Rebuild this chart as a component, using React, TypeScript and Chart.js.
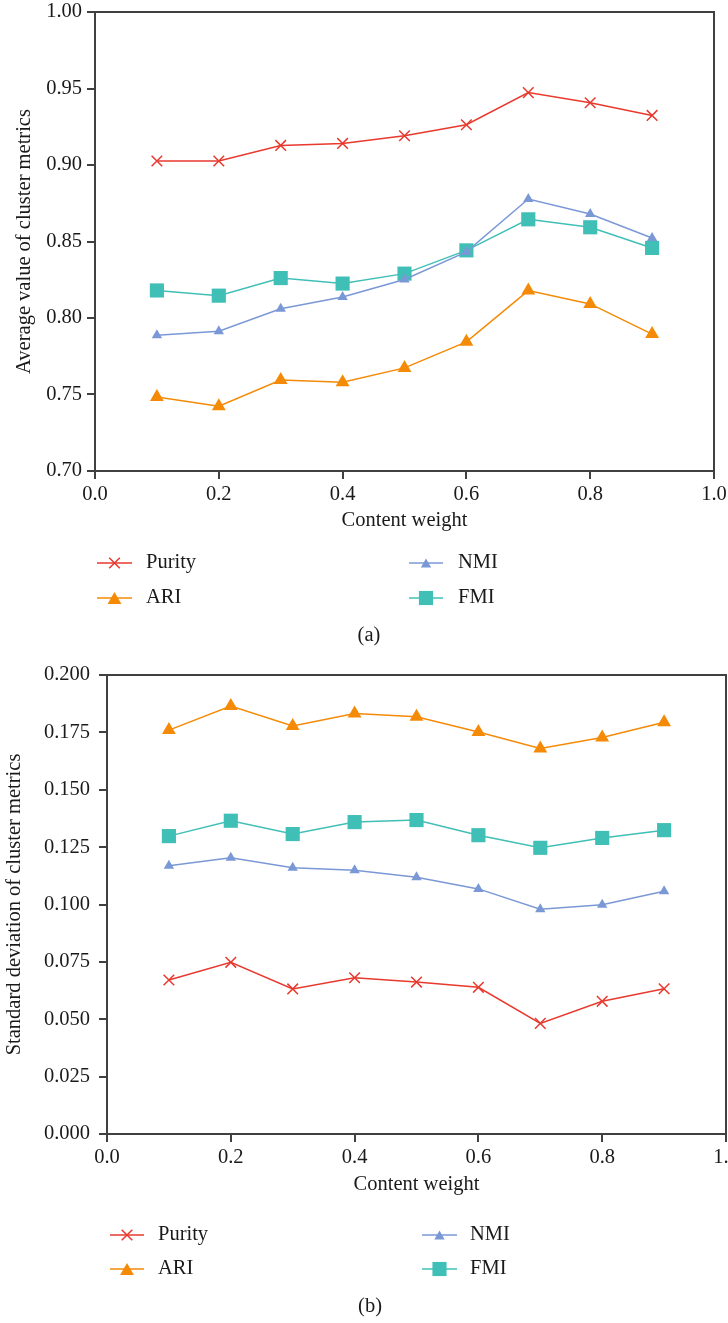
import React, { useEffect, useRef } from 'react';
import { Chart, registerables } from 'chart.js';

Chart.register(...registerables);

const contentWeights = [0.1, 0.2, 0.3, 0.4, 0.5, 0.6, 0.7, 0.8, 0.9];

const purityMean = [0.9026, 0.9026, 0.9128, 0.9141, 0.9191, 0.9263, 0.9473, 0.9407, 0.9324];
const ariMean = [0.7484, 0.7424, 0.7594, 0.758, 0.7674, 0.7844, 0.8179, 0.8092, 0.7895];
const nmiMean = [0.7887, 0.7913, 0.806, 0.8137, 0.8252, 0.8432, 0.8778, 0.868, 0.8523];
const fmiMean = [0.818, 0.8146, 0.8261, 0.8225, 0.829, 0.8442, 0.8645, 0.8593, 0.8458];

const purityStd = [0.0671, 0.0748, 0.0632, 0.0681, 0.0662, 0.0639, 0.0482, 0.0578, 0.0633];
const ariStd = [0.176, 0.1865, 0.1778, 0.1832, 0.1818, 0.1752, 0.168, 0.1728, 0.1794];
const nmiStd = [0.1169, 0.1204, 0.116, 0.1149, 0.1119, 0.1068, 0.0979, 0.0999, 0.1058];
const fmiStd = [0.1298, 0.1365, 0.1307, 0.1359, 0.1368, 0.1302, 0.1247, 0.129, 0.1324];

const seriesNames = ['Purity', 'ARI', 'NMI', 'FMI'];
const seriesColors = ['#E8392E', '#F58A07', '#7B98D6', '#40BFB6'];
const seriesStyles = ['crossRot', 'triangle', 'triangle', 'rect'];
const seriesRadius = [7.5, 8, 6, 10];

const FONT = "'Liberation Serif', 'Times New Roman', serif";
const FONT_SIZE = 20.5;
const TEXT = '#1a1a1a';
const AXIS = '#404040';

function drawMarker(ctx: CanvasRenderingContext2D, style: string, x: number, y: number, r: number, color: string) {
  ctx.save();
  ctx.fillStyle = color;
  ctx.strokeStyle = color;
  ctx.lineWidth = 1.5;
  ctx.beginPath();
  if (style === 'crossRot') {
    const o = Math.SQRT1_2 * r;
    ctx.moveTo(x - o, y - o);
    ctx.lineTo(x + o, y + o);
    ctx.moveTo(x - o, y + o);
    ctx.lineTo(x + o, y - o);
    ctx.stroke();
  } else if (style === 'triangle') {
    let a = 0;
    ctx.moveTo(x + Math.sin(a) * r, y - Math.cos(a) * r);
    a += (2 * Math.PI) / 3;
    ctx.lineTo(x + Math.sin(a) * r, y - Math.cos(a) * r);
    a += (2 * Math.PI) / 3;
    ctx.lineTo(x + Math.sin(a) * r, y - Math.cos(a) * r);
    ctx.closePath();
    ctx.fill();
  } else {
    const s = Math.SQRT1_2 * r;
    ctx.rect(x - s, y - s, 2 * s, 2 * s);
    ctx.fill();
  }
  ctx.restore();
}

type Layout = {
  height: number;
  yWidth: number;
  xHeight: number;
  padTop: number;
  padRight: number;
  yTitlePad: number;
  xTitlePad: number;
  yLabelPad: number;
  yMin: number;
  yMax: number;
  yStep: number;
  yDigits: number;
  yTitle: string;
  legendRows: number[];
  legendCols: { lineStart: number; lineEnd: number; textX: number }[];
  caption: string;
  captionX: number;
  captionY: number;
};

function buildChart(canvas: HTMLCanvasElement, series: number[][], L: Layout) {
  const datasets = series.map((vals, i) => ({
    label: seriesNames[i],
    data: contentWeights.map((x, j) => ({ x, y: vals[j] })),
    borderColor: seriesColors[i],
    backgroundColor: seriesColors[i],
    borderWidth: 1.5,
    pointStyle: seriesStyles[i] as any,
    pointRadius: seriesRadius[i],
    pointHoverRadius: seriesRadius[i],
    pointBorderWidth: i === 0 ? 1.5 : 0,
    pointBackgroundColor: seriesColors[i],
    pointBorderColor: seriesColors[i],
    tension: 0,
    fill: false,
  }));

  const framePlugin = {
    id: 'frameAndLegend',
    afterDraw(chart: any) {
      const ctx: CanvasRenderingContext2D = chart.ctx;
      const a = chart.chartArea;
      ctx.save();
      ctx.strokeStyle = AXIS;
      ctx.lineWidth = 2;
      ctx.beginPath();
      ctx.moveTo(a.left, a.top);
      ctx.lineTo(a.right, a.top);
      ctx.lineTo(a.right, a.bottom);
      ctx.stroke();

      // legend
      ctx.font = `${FONT_SIZE}px ${FONT}`;
      ctx.textBaseline = 'middle';
      ctx.textAlign = 'left';
      for (let i = 0; i < seriesNames.length; i++) {
        const col = L.legendCols[i < 2 ? 0 : 1];
        const y = L.legendRows[i % 2];
        ctx.strokeStyle = seriesColors[i];
        ctx.lineWidth = 1.5;
        ctx.beginPath();
        ctx.moveTo(col.lineStart, y);
        ctx.lineTo(col.lineEnd, y);
        ctx.stroke();
        const cx = (col.lineStart + col.lineEnd) / 2;
        const cy = seriesStyles[i] === 'triangle' ? y + seriesRadius[i] * 0.25 : y;
        drawMarker(ctx, seriesStyles[i], cx, cy, seriesRadius[i], seriesColors[i]);
        ctx.fillStyle = TEXT;
        ctx.fillText(seriesNames[i], col.textX, y);
      }
      ctx.textAlign = 'center';
      ctx.fillText(L.caption, L.captionX, L.captionY);
      ctx.restore();
    },
  };

  return new Chart(canvas, {
    type: 'line',
    data: { datasets: datasets as any },
    plugins: [framePlugin],
    options: {
      responsive: false,
      animation: false,
      devicePixelRatio: 1,
      layout: {
        autoPadding: false,
        padding: {
          top: L.padTop,
          right: L.padRight,
          left: 0,
          bottom: L.height - L.padTop - 459 - L.xHeight,
        },
      },
      plugins: {
        legend: { display: false },
        tooltip: { enabled: false },
      },
      scales: {
        x: {
          type: 'linear',
          min: 0,
          max: 1,
          ticks: {
            stepSize: 0.2,
            color: TEXT,
            font: { family: FONT, size: FONT_SIZE },
            padding: 3,
            maxRotation: 0,
            autoSkip: false,
            callback: (v: any) => Number(v).toFixed(1),
          },
          grid: {
            drawOnChartArea: false,
            drawTicks: true,
            tickLength: 8,
            color: AXIS,
            lineWidth: 2,
          },
          border: { color: AXIS, width: 2 },
          title: {
            display: true,
            text: 'Content weight',
            color: TEXT,
            font: { family: FONT, size: FONT_SIZE },
            padding: { top: 0, bottom: L.xTitlePad },
          },
          afterFit: (s: any) => {
            s.height = L.xHeight;
            s.paddingLeft = 0;
            s.paddingRight = 0;
          },
        },
        y: {
          type: 'linear',
          min: L.yMin,
          max: L.yMax,
          ticks: {
            stepSize: L.yStep,
            color: TEXT,
            font: { family: FONT, size: FONT_SIZE },
            padding: L.yLabelPad,
            autoSkip: false,
            callback: (v: any) => Number(v).toFixed(L.yDigits),
          },
          grid: {
            drawOnChartArea: false,
            drawTicks: true,
            tickLength: 8,
            color: AXIS,
            lineWidth: 2,
          },
          border: { color: AXIS, width: 2 },
          title: {
            display: true,
            text: L.yTitle,
            color: TEXT,
            font: { family: FONT, size: FONT_SIZE },
            padding: { top: L.yTitlePad, bottom: 0 },
          },
          afterFit: (s: any) => {
            s.width = L.yWidth;
            s.paddingTop = 0;
            s.paddingBottom = 0;
          },
        },
      },
    } as any,
  });
}

const layoutA: Layout = {
  height: 655,
  yWidth: 95,
  xHeight: 64,
  padTop: 12,
  padRight: 14,
  yTitlePad: 12.7,
  xTitlePad: 1.7,
  yLabelPad: 5,
  yMin: 0.7,
  yMax: 1.0,
  yStep: 0.05,
  yDigits: 2,
  yTitle: 'Average value of cluster metrics',
  legendRows: [563, 598],
  legendCols: [
    { lineStart: 97, lineEnd: 132, textX: 146 },
    { lineStart: 409, lineEnd: 443, textX: 458 },
  ],
  caption: '(a)',
  captionX: 369,
  captionY: 636,
};

const layoutB: Layout = {
  height: 668,
  yWidth: 107,
  xHeight: 66,
  padTop: 20,
  padRight: 2,
  yTitlePad: 2.7,
  xTitlePad: 2.7,
  yLabelPad: 9,
  yMin: 0,
  yMax: 0.2,
  yStep: 0.025,
  yDigits: 3,
  yTitle: 'Standard deviation of cluster metrics',
  legendRows: [580, 614],
  legendCols: [
    { lineStart: 110, lineEnd: 144, textX: 158 },
    { lineStart: 422, lineEnd: 457, textX: 470 },
  ],
  caption: '(b)',
  captionX: 370,
  captionY: 652,
};

export default function App() {
  const refA = useRef<HTMLCanvasElement>(null);
  const refB = useRef<HTMLCanvasElement>(null);

  useEffect(() => {
    const a = buildChart(refA.current!, [purityMean, ariMean, nmiMean, fmiMean], layoutA);
    const b = buildChart(refB.current!, [purityStd, ariStd, nmiStd, fmiStd], layoutB);
    return () => {
      a.destroy();
      b.destroy();
    };
  }, []);

  return (
    <div style={{ position: 'absolute', left: 0, top: 0, width: 728, height: 1323, background: '#fff' }}>
      <canvas ref={refA} width={728} height={655} style={{ position: 'absolute', left: 0, top: 0, width: 728, height: 655 }} />
      <canvas ref={refB} width={728} height={668} style={{ position: 'absolute', left: 0, top: 655, width: 728, height: 668 }} />
    </div>
  );
}
